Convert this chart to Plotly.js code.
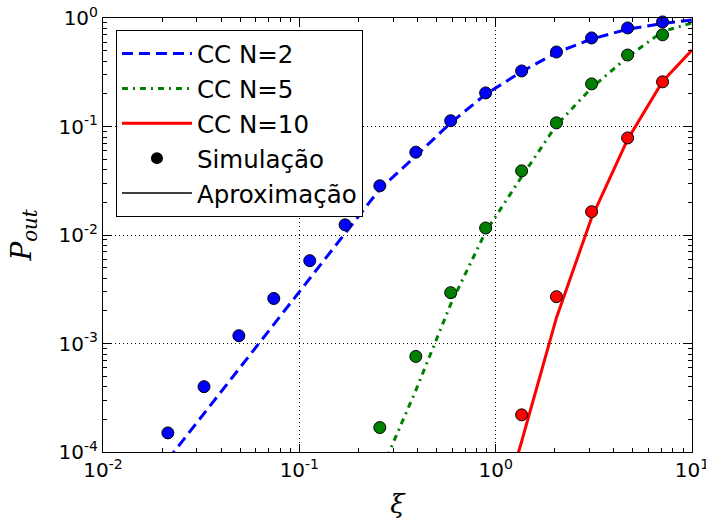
<!DOCTYPE html>
<html><head><meta charset="utf-8">
<script src="https://cdn.plot.ly/plotly-3.0.1.min.js"></script>
<style>html,body{margin:0;padding:0;background:#fff}</style>
</head><body><div id="chart" style="width:706px;height:525px"></div>
<script>
// grid of xi values (approximation curves are evaluated on it)
const xiLine = [0.0214, 0.0327, 0.0492, 0.0741, 0.113, 0.171, 0.257, 0.392, 0.59, 0.889, 1.356, 2.04, 3.08, 4.7, 7.08, 10.0];
// simulation points
const xiSimN2 = [0.0214, 0.0327, 0.0492, 0.0741, 0.113, 0.171, 0.257, 0.392, 0.59, 0.889, 1.356, 2.04, 3.08, 4.7, 7.08];
const simN2 = [1.5e-4, 4.0e-4, 1.18e-3, 2.6e-3, 5.8e-3, 0.0124, 0.0284, 0.058, 0.113, 0.204, 0.325, 0.486, 0.655, 0.81, 0.92];
const xiSimN5 = [0.257, 0.392, 0.59, 0.889, 1.356, 2.04, 3.08, 4.7, 7.08];
const simN5 = [1.68e-4, 7.6e-4, 2.94e-3, 0.0116, 0.039, 0.108, 0.247, 0.456, 0.70];
const xiSimN10 = [1.356, 2.04, 3.08, 4.7, 7.08];
const simN10 = [2.2e-4, 2.7e-3, 0.0164, 0.0785, 0.258];
// approximation curves
const apxN2 = [8.5e-5, 2.26e-4, 5.9e-4, 1.5e-3, 4.0e-3, 0.0103, 0.0265, 0.0536, 0.108, 0.198, 0.32, 0.48, 0.64, 0.79, 0.89, 0.96];
const xiApxN5 = [0.257, 0.392, 0.59, 0.889, 1.356, 2.04, 3.08, 4.7, 7.08, 10.0];
const apxN5 = [6.3e-5, 3.7e-4, 2.3e-3, 0.0107, 0.0344, 0.103, 0.227, 0.437, 0.75, 0.9];
const xiApxN10 = [0.889, 1.356, 2.04, 3.08, 4.7, 7.08, 10.0];
const apxN10 = [9e-6, 1.25e-4, 1.73e-3, 0.0144, 0.076, 0.26, 0.507];
// tick labels
const xTickVals = [0.01, 0.1, 1, 10];
const xTickText = ['10<sup>-2</sup>', '10<sup>-1</sup>', '10<sup>0</sup>', '10<sup>1</sup>'];
const yTickVals = [1e-4, 1e-3, 1e-2, 1e-1, 1];
const yTickText = ['10<sup>-4</sup>', '10<sup>-3</sup>', '10<sup>-2</sup>', '10<sup>-1</sup>', '10<sup>0</sup>'];

function minorVals(e0, e1) {
  const out = [];
  for (let e = e0; e < e1; e++) for (let m = 2; m <= 9; m++) out.push(m * Math.pow(10, e));
  return out;
}

const BLUE = '#0000ff', GREEN = '#008000', RED = '#ff0000';
const mk = c => ({size: 12, color: c, line: {color: '#000', width: 1}});

const traces = [
  {x: xiLine, y: apxN2, mode: 'lines', name: 'CC N=2', legendgroup: 'a',
   line: {color: BLUE, width: 3, dash: '11px,6px'}},
  {x: xiApxN5, y: apxN5, mode: 'lines', name: 'CC N=5', legendgroup: 'b',
   line: {color: GREEN, width: 3, dash: '6px,5px,2px,5px'}},
  {x: xiApxN10, y: apxN10, mode: 'lines', name: 'CC N=10', legendgroup: 'c',
   line: {color: RED, width: 3}},
  {x: xiSimN2, y: simN2, mode: 'markers', showlegend: false, marker: mk(BLUE), cliponaxis: false},
  {x: xiSimN5, y: simN5, mode: 'markers', showlegend: false, marker: mk(GREEN), cliponaxis: false},
  {x: xiSimN10, y: simN10, mode: 'markers', showlegend: false, marker: mk(RED), cliponaxis: false},
  {x: [null], y: [null], mode: 'markers', name: 'Simulação', legendgroup: 'd',
   marker: {size: 12, color: '#000'}},
  {x: [null], y: [null], mode: 'lines', name: 'Aproximação', legendgroup: 'e',
   line: {color: '#000', width: 1.5}}
];

const axisCommon = {
  type: 'log', showline: true, linecolor: '#000', linewidth: 1, mirror: 'allticks',
  ticks: 'inside', ticklen: 8, tickwidth: 1, tickcolor: '#000', tickmode: 'array',
  showgrid: true, gridcolor: '#000', gridwidth: 1, griddash: '1px,3px', zeroline: false,
  ticklabeloverflow: 'allow',
  tickfont: {family: 'DejaVu Sans', size: 20, color: '#000'}
};

const layout = {
  width: 706, height: 525,
  margin: {l: 103, r: 14, t: 18, b: 73},
  paper_bgcolor: '#fff', plot_bgcolor: '#fff',
  showlegend: true,
  xaxis: Object.assign({}, axisCommon, {
    range: [-2, 1], tickvals: xTickVals, ticktext: xTickText,
    minor: {tickmode: 'array', tickvals: minorVals(-2, 1), ticks: 'inside', ticklen: 4, tickcolor: '#000', showgrid: false},
    title: {text: '<i>ξ</i>', font: {family: 'DejaVu Serif', size: 26, color: '#000'}, standoff: 13}
  }),
  yaxis: Object.assign({}, axisCommon, {
    range: [-4, 0], tickvals: yTickVals, ticktext: yTickText,
    minor: {tickmode: 'array', tickvals: minorVals(-4, 0), ticks: 'inside', ticklen: 4, tickcolor: '#000', showgrid: false},
    title: {text: '<i>P</i><sub><i>out</i></sub>', font: {family: 'DejaVu Serif', size: 28, color: '#000'}, standoff: 18}
  }),
  legend: {
    x: 0.022, y: 0.972, xanchor: 'left', yanchor: 'top',
    bgcolor: '#fff', bordercolor: '#000', borderwidth: 1,
    font: {family: 'DejaVu Sans', size: 24.5, color: '#000'},
    tracegroupgap: 4, itemwidth: 70, traceorder: 'normal'
  }
};

Plotly.newPlot('chart', traces, layout, {displayModeBar: false, staticPlot: true});
</script>
</body></html>
